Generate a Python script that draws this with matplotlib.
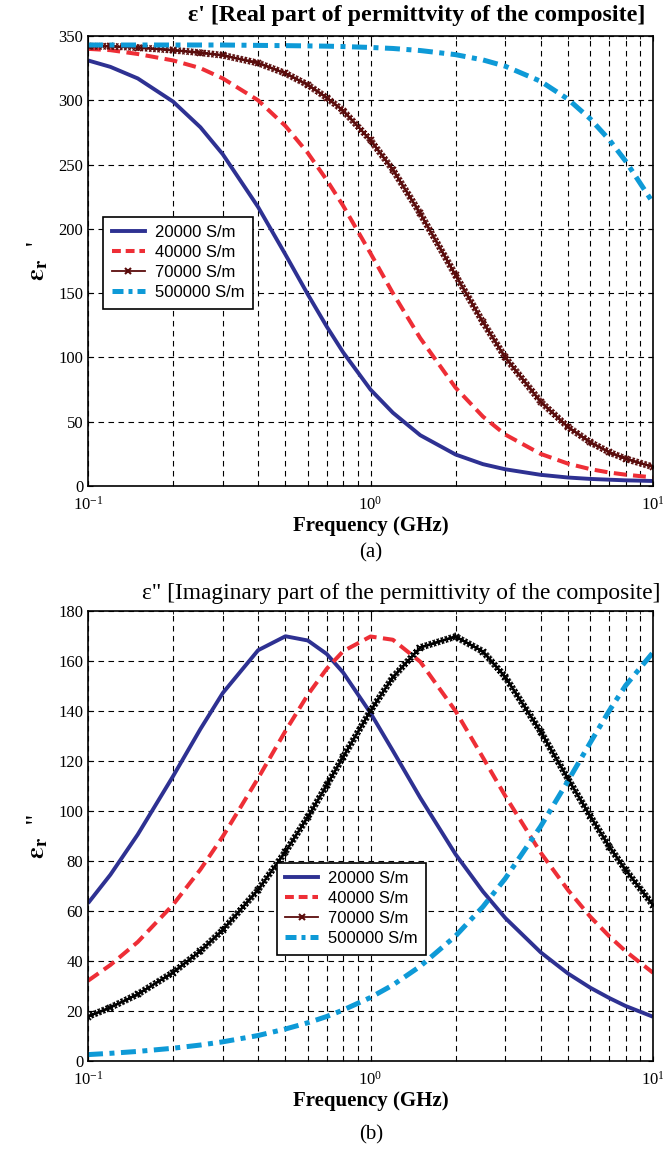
import matplotlib
matplotlib.use('Agg')
import matplotlib.pyplot as plt
import matplotlib.patheffects as pe
from matplotlib.lines import Line2D
from matplotlib.ticker import LogLocator, NullFormatter

# frequency points (GHz) and permittivity readings for each conductivity
freq = [0.1, 0.12, 0.15, 0.2, 0.25, 0.3, 0.4, 0.5, 0.6, 0.7, 0.8, 1.0,
        1.2, 1.5, 2.0, 2.5, 3.0, 4.0, 5.0, 6.0, 7.0, 8.0, 10.0]

real_20k = [331, 326, 317, 299, 279, 258, 217, 180, 149, 124, 104, 75,
            57, 39.5, 24.5, 17, 13, 8.7, 6.6, 5.5, 4.9, 4.4, 3.9]
real_40k = [340, 339, 336, 331, 325, 317, 300, 280, 259, 238, 218, 181,
            150, 115, 76.5, 54, 40, 25, 17.4, 13.1, 10.5, 8.8, 6.7]
real_70k = [342, 342, 341, 339, 337, 335, 329, 321, 312, 302, 292, 269,
            246, 212, 164, 127.5, 100, 65.6, 45.9, 34, 26.3, 21.2, 14.9]
real_500k = [343, 343, 343, 343, 343, 343, 342.7, 342.5, 342.3, 342.1, 341.8, 341.1,
             340.3, 338.7, 335.5, 331.4, 326.5, 314.8, 300.9, 285.5, 269.3, 252.7, 220.3]

imag_20k = [63.1, 74.5, 90.6, 113.9, 132.8, 147.2, 164.3, 169.9, 168.2, 162.8, 155.4, 139.2,
            124.1, 105.3, 82.7, 67.8, 57.2, 43.5, 35.0, 29.3, 25.2, 22.0, 17.7]
imag_40k = [32.1, 38.4, 47.6, 62.5, 76.6, 89.8, 113.1, 132.0, 146.5, 156.9, 163.9, 169.8,
            168.5, 159.7, 140.0, 121.4, 106.0, 83.4, 68.4, 57.7, 49.9, 43.9, 35.3]
imag_70k = [17.8, 21.4, 26.7, 35.4, 44.0, 52.4, 68.5, 83.7, 97.6, 110.3, 121.6, 140.1,
            153.5, 165.4, 169.8, 163.8, 153.6, 131.8, 112.9, 97.9, 85.8, 76.4, 62.4]
imag_500k = [2.56, 3.07, 3.83, 5.11, 6.39, 7.67, 10.2, 12.8, 15.3, 17.8, 20.4, 25.4,
             30.4, 37.9, 50.0, 61.7, 73.0, 93.8, 112.0, 127.4, 140.1, 150.2, 163.4]

labels = ['20000 S/m', '40000 S/m', '70000 S/m', '500000 S/m']

BLUE = '#2e3192'
RED = '#ee2e36'
DARKRED = '#5a0c0c'
CYAN = '#0e9ad7'

plt.rcParams['font.family'] = ['Liberation Serif', 'DejaVu Serif']
plt.rcParams['mathtext.fontset'] = 'stix'


def style_axes(ax, ymax, ystep):
    ax.set_xscale('log')
    ax.set_xlim(0.1, 10)
    ax.set_ylim(0, ymax)
    ax.set_yticks(range(0, ymax + 1, ystep))
    ax.xaxis.set_minor_locator(LogLocator(base=10, subs=range(2, 10)))
    ax.xaxis.set_minor_formatter(NullFormatter())
    ax.tick_params(which='both', direction='in', labelsize=12, top=True, right=True)
    ax.tick_params(axis='x', pad=7)
    ax.grid(which='major', axis='both', color='black', linestyle=(0, (5, 4)), linewidth=0.8)
    ax.grid(which='minor', axis='x', color='black', linestyle=(0, (5, 4)), linewidth=0.8)
    for s in ax.spines.values():
        s.set_linewidth(1.2)
    ax.set_xlabel('Frequency (GHz)', fontsize=15, fontweight='bold', labelpad=2)


def cross_ticks(color):
    # crossed ticks along the line, giving the look of densely packed 'x' markers
    fx = [pe.Normal()]
    for ang in (45, 135, -45, -135):
        fx.append(pe.withTickedStroke(angle=ang, spacing=3.0, length=0.95,
                                      foreground=color, linewidth=0.9))
    return fx


def draw_curves(ax, s20, s40, s70, s500, c70):
    ax.plot(freq, s20, color=BLUE, linewidth=2.8, solid_capstyle='butt')
    ax.plot(freq, s40, color=RED, linewidth=2.9, dashes=(3.2, 1.6))
    ax.plot(freq, s70, color=c70, linewidth=1.0, path_effects=cross_ticks(c70))
    ax.plot(freq, s70, color=c70, linestyle='none', marker='x', markersize=4.5,
            markeredgewidth=1.2)
    ax.plot(freq, s500, color=CYAN, linewidth=3.6, dashes=(3.0, 1.3, 1.0, 1.3))


def legend_handles():
    return [
        Line2D([], [], color=BLUE, linewidth=2.8),
        Line2D([], [], color=RED, linewidth=2.9, dashes=(2.2, 1.2)),
        Line2D([], [], color=DARKRED, linewidth=1.3, marker='x', markersize=5,
               markeredgewidth=1.5),
        Line2D([], [], color=CYAN, linewidth=3.6, dashes=(2.2, 1.0, 0.8, 1.0)),
    ]


def add_legend(ax, anchor):
    leg = ax.legend(legend_handles(), labels, loc='upper left', bbox_to_anchor=anchor,
                    prop={'family': 'Liberation Sans', 'size': 12}, fancybox=False,
                    edgecolor='black', framealpha=1, handlelength=2.0, borderpad=0.5,
                    labelspacing=0.3, handletextpad=0.6, borderaxespad=0)
    leg.get_frame().set_linewidth(1.2)


fig = plt.figure(figsize=(6.63, 11.49), dpi=100)

# (a) real part
ax1 = fig.add_axes([88 / 663, 1 - 486 / 1149, 565 / 663, 450 / 1149])
draw_curves(ax1, real_20k, real_40k, real_70k, real_500k, DARKRED)
style_axes(ax1, 350, 50)
ax1.set_ylabel("$\\mathbf{\\epsilon}_{\\mathbf{r}}$  '", fontsize=19, labelpad=6)
add_legend(ax1, (0.027, 0.598))
fig.text(417 / 663, 1 - 16 / 1149, "ε' [Real part of permittvity of the composite]",
         ha='center', va='center', fontsize=17.3, fontweight='bold')
fig.text(371 / 663, 1 - 553 / 1149, '(a)', ha='center', va='center', fontsize=15)

# (b) imaginary part
ax2 = fig.add_axes([88 / 663, 1 - 1061 / 1149, 565 / 663, 450 / 1149])
draw_curves(ax2, imag_20k, imag_40k, imag_70k, imag_500k, 'black')
style_axes(ax2, 180, 20)
ax2.set_ylabel("$\\mathbf{\\epsilon}_{\\mathbf{r}}$  ''", fontsize=19, labelpad=6)
add_legend(ax2, (0.334, 0.44))
fig.text(401 / 663, 1 - 593 / 1149, 'ε" [Imaginary part of the permittivity of the composite]',
         ha='center', va='center', fontsize=16.8)
fig.text(371 / 663, 1 - 1135 / 1149, '(b)', ha='center', va='center', fontsize=15)

fig.savefig('out.png', dpi=100)
